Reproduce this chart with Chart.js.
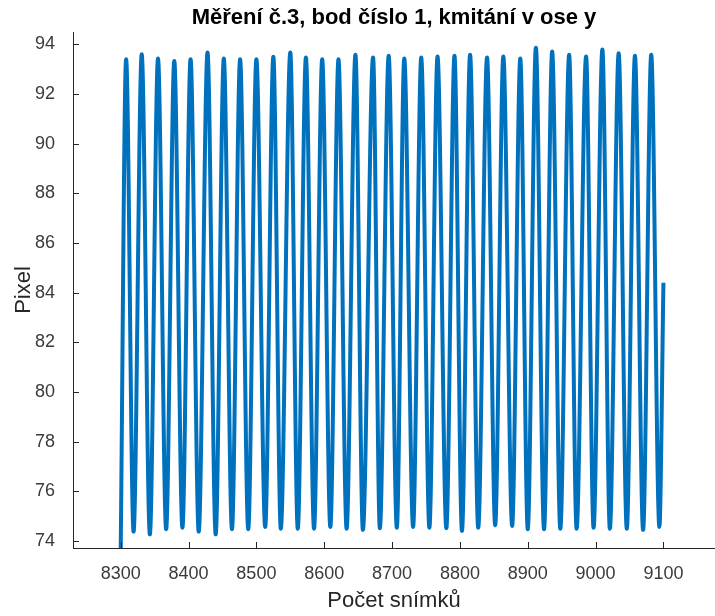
<!DOCTYPE html>
<html>
<head>
<meta charset="utf-8">
<script src="https://cdn.jsdelivr.net/npm/chart.js@4/dist/chart.umd.min.js"></script>
<style>
    html, body { margin: 0; padding: 0; background: #ffffff; }
    #wrap { width: 715px; height: 616px; position: relative; }
</style>
</head>
<body>
<div id="wrap"><canvas id="chart"></canvas></div>
<script>
// values (frame number -> pixel)
const startPoint = { x: 8300, y: 73.6 };
const endPoint = { x: 9100, y: 84.4 };

const peakFrames = [8308, 8331, 8355, 8379, 8403, 8428, 8452, 8476, 8500, 8525, 8550,
    8573, 8597, 8621, 8646, 8672, 8695, 8718, 8743, 8767, 8792, 8815,
    8840, 8864, 8889, 8912, 8936, 8961, 8986, 9010, 9034, 9058, 9082];
const peakValues = [93.40, 93.60, 93.43, 93.33, 93.40, 93.67, 93.43, 93.40, 93.40, 93.50, 93.67,
    93.47, 93.40, 93.40, 93.58, 93.47, 93.54, 93.43, 93.47, 93.51, 93.54, 93.58,
    93.47, 93.51, 93.43, 93.87, 93.71, 93.58, 93.51, 93.80, 93.64, 93.54, 93.58];

const troughFrames = [8319, 8343, 8367, 8391, 8415, 8440, 8464, 8488, 8513, 8536, 8561,
    8585, 8609, 8633, 8657, 8682, 8707, 8731, 8755, 8780, 8803, 8827,
    8852, 8877, 8900, 8924, 8948, 8972, 8997, 9021, 9046, 9070, 9094];
const troughValues = [74.38, 74.27, 74.48, 74.54, 74.38, 74.27, 74.48, 74.48, 74.57, 74.50, 74.50,
    74.50, 74.57, 74.50, 74.45, 74.52, 74.54, 74.57, 74.54, 74.52, 74.41, 74.54,
    74.64, 74.61, 74.48, 74.48, 74.50, 74.50, 74.54, 74.50, 74.50, 74.45, 74.57];

const xRange = [8229.7, 9176];
const yRange = [73.72, 94.5];

const FONT = "'Liberation Sans', Arial, Helvetica, sans-serif";
const AXIS_COLOR = "#262626";

// interleave peaks and troughs into one series
const points = [startPoint];
peakFrames.forEach((f, i) => {
    points.push({ x: f, y: peakValues[i] });
    points.push({ x: troughFrames[i], y: troughValues[i] });
});
points.push(endPoint);

// matlab style: tick marks point into the plot
const innerTicks = {
    id: "innerTicks",
    afterDatasetsDraw(chart) {
        const { ctx, chartArea, scales } = chart;
        const len = 6;
        ctx.save();
        ctx.strokeStyle = AXIS_COLOR;
        ctx.lineWidth = 1;
        ctx.beginPath();
        scales.x.ticks.forEach((t) => {
            const px = Math.round(scales.x.getPixelForValue(t.value)) + 0.5;
            ctx.moveTo(px, chartArea.bottom);
            ctx.lineTo(px, chartArea.bottom - len);
        });
        scales.y.ticks.forEach((t) => {
            const py = Math.round(scales.y.getPixelForValue(t.value)) + 0.5;
            ctx.moveTo(chartArea.left, py);
            ctx.lineTo(chartArea.left + len, py);
        });
        ctx.stroke();
        ctx.restore();
    },
};

new Chart(document.getElementById("chart"), {
    type: "line",
    data: {
        datasets: [{
            data: points,
            borderColor: "#0072BD",
            borderWidth: 4,
            pointRadius: 0,
            fill: false,
            cubicInterpolationMode: "monotone",
        }],
    },
    options: {
        responsive: true,
        maintainAspectRatio: false,
        devicePixelRatio: 1,
        animation: false,
        layout: { padding: 0 },
        plugins: {
            legend: { display: false },
            tooltip: { enabled: false },
            title: {
                display: true,
                fullSize: false,
                text: "Měření č.3, bod číslo 1, kmitání v ose y",
                color: "#000000",
                font: { family: FONT, size: 22, weight: "bold" },
                padding: { top: 5, bottom: 0.6 },
            },
        },
        scales: {
            x: {
                type: "linear",
                min: xRange[0],
                max: xRange[1],
                afterFit: (scale) => { scale.height = 68; },
                grid: { display: false },
                border: { display: true, color: AXIS_COLOR, width: 1 },
                ticks: {
                    stepSize: 100,
                    includeBounds: false,
                    autoSkip: false,
                    maxRotation: 0,
                    padding: 7,
                    color: "#3a3a3a",
                    font: { family: FONT, size: 18 },
                    callback: (v) => String(v),
                },
                title: {
                    display: true,
                    text: "Počet snímků",
                    color: AXIS_COLOR,
                    font: { family: FONT, size: 22 },
                    padding: { top: 2, bottom: 2 },
                },
            },
            y: {
                min: yRange[0],
                max: yRange[1],
                afterFit: (scale) => { scale.width = 73; },
                grid: { display: false },
                border: { display: true, color: AXIS_COLOR, width: 1 },
                ticks: {
                    stepSize: 2,
                    includeBounds: false,
                    autoSkip: false,
                    padding: 10,
                    color: "#3a3a3a",
                    font: { family: FONT, size: 18 },
                    callback: (v) => String(v),
                },
                title: {
                    display: true,
                    text: "Pixel",
                    color: AXIS_COLOR,
                    font: { family: FONT, size: 22 },
                    padding: { top: 11, bottom: 0 },
                },
            },
        },
    },
    plugins: [innerTicks],
});
</script>
</body>
</html>
